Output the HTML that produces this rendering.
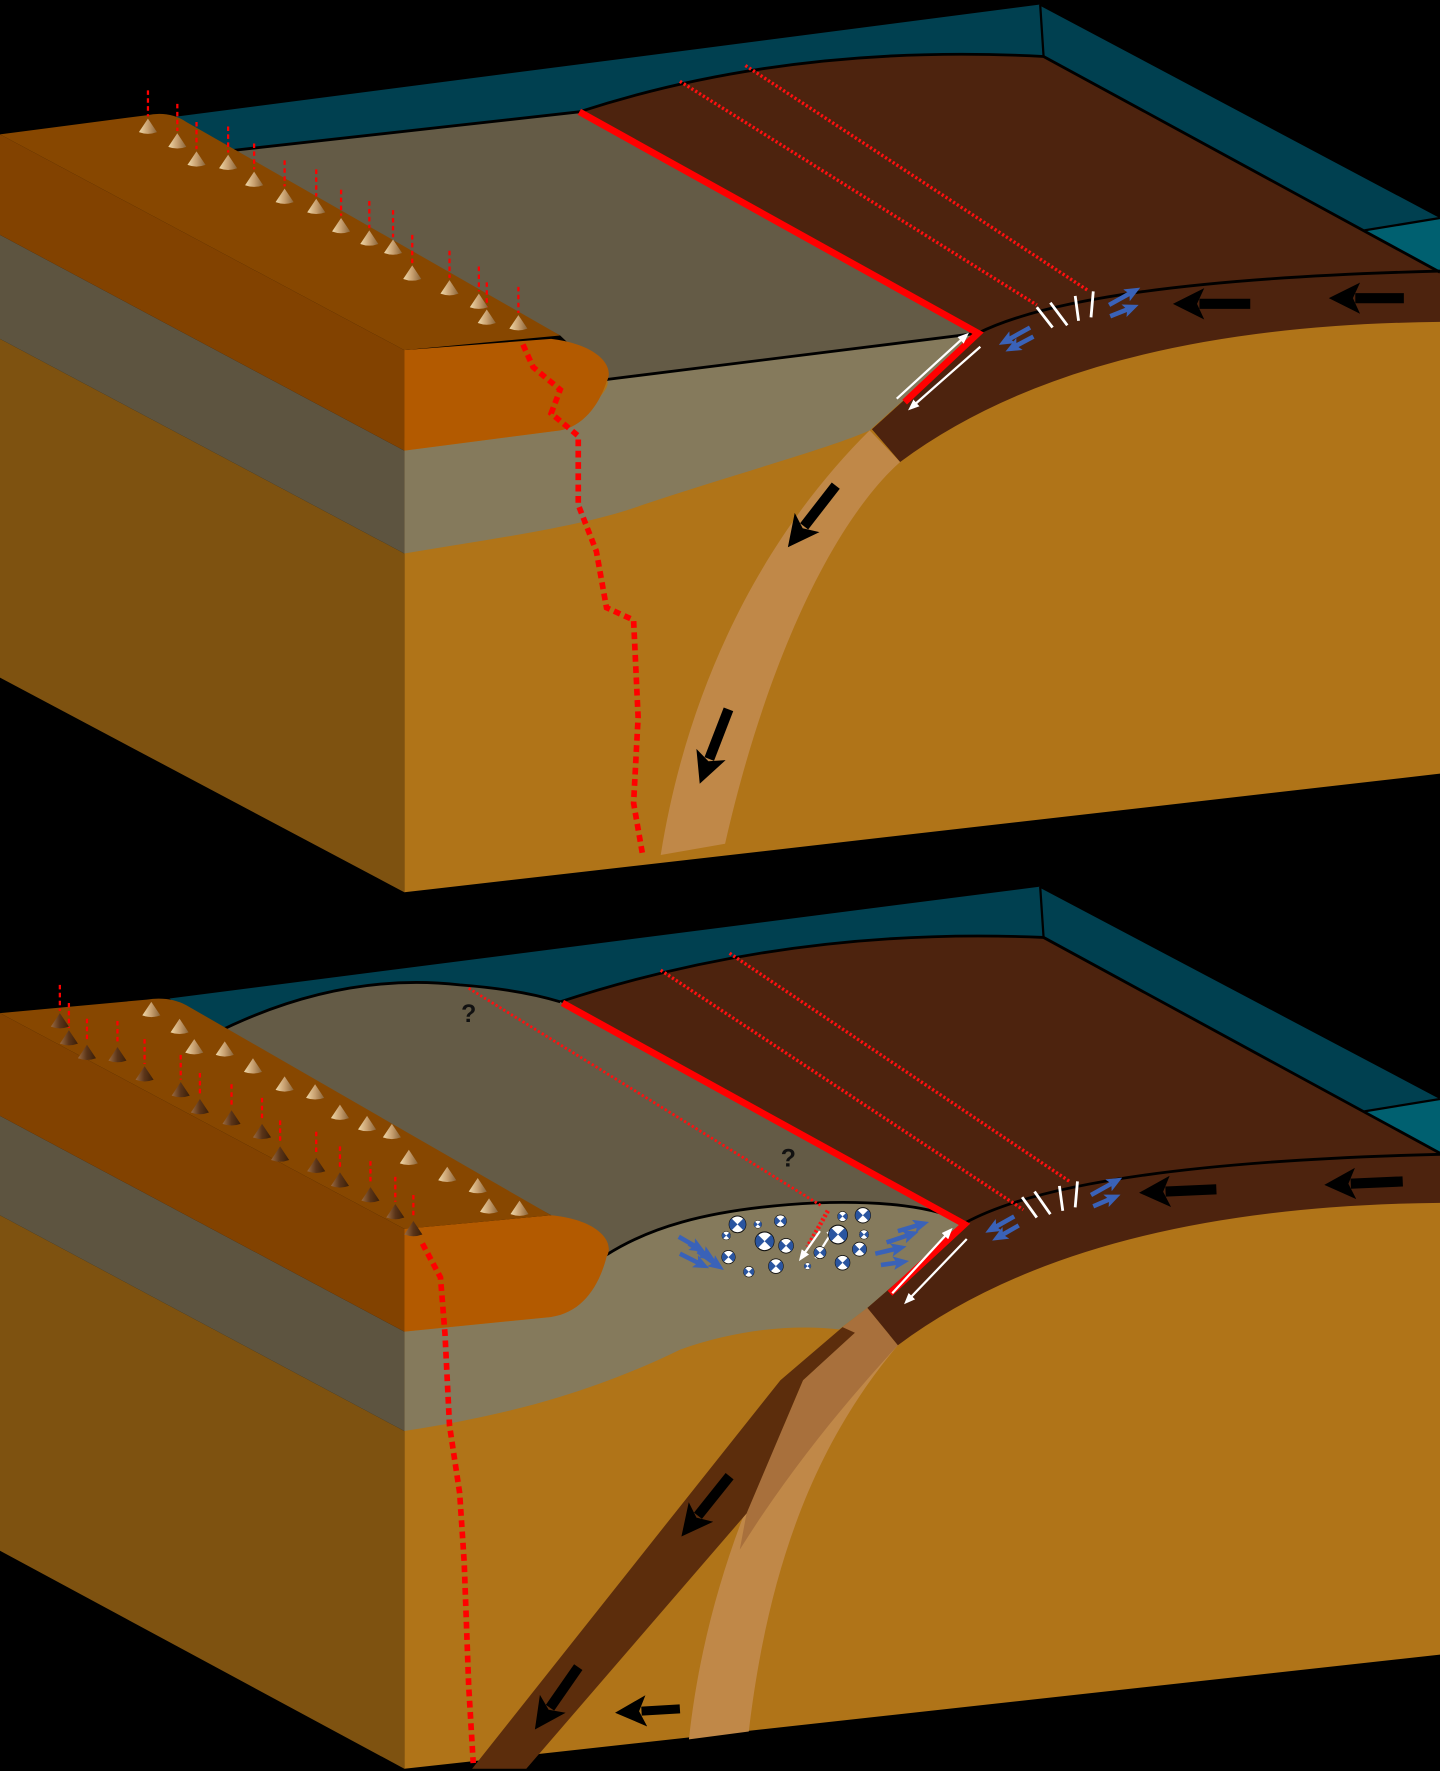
<!DOCTYPE html>
<html><head><meta charset="utf-8"><style>html,body{margin:0;padding:0;background:#000}svg{display:block}</style></head>
<body>
<svg width="1440" height="1771" viewBox="0 0 1275 1568" preserveAspectRatio="none" xmlns="http://www.w3.org/2000/svg">
<defs>
<linearGradient id="cl" x1="0" x2="1" y1="0" y2="0"><stop offset="0" stop-color="#f0d8a8"/><stop offset="0.5" stop-color="#c8a070"/><stop offset="1" stop-color="#8a6438"/></linearGradient>
<linearGradient id="cd" x1="0" x2="1" y1="0" y2="0"><stop offset="0" stop-color="#9a6a40"/><stop offset="0.5" stop-color="#5a3418"/><stop offset="1" stop-color="#3a1e08"/></linearGradient>
<path id="cone" d="M0,0 L-8,12 Q0,15 8,12 Z" fill="url(#cl)"/>
<path id="coned" d="M0,0 L-8,12 Q0,15 8,12 Z" fill="url(#cd)"/>
<g id="bb"><circle r="1" fill="#fff" stroke="#111" stroke-width="0.12"/><path d="M0,0 L-0.7,-0.7 A1,1 0 0 0 -0.7,0.7 Z M0,0 L0.7,-0.7 A1,1 0 0 1 0.7,0.7 Z" fill="#2a55a0"/></g>
<marker id="ab" markerUnits="userSpaceOnUse" markerWidth="32" markerHeight="32" refX="4" refY="13" orient="auto" viewBox="0 0 30 26"><path d="M0,0 L26,13 L0,26 L6,13 Z" fill="#000"/></marker>
<marker id="aw" markerUnits="userSpaceOnUse" markerWidth="10" markerHeight="8" refX="2" refY="4" orient="auto" viewBox="0 0 10 8"><path d="M0,0 L10,4 L0,8 Z" fill="#fff"/></marker>
<marker id="abl" markerUnits="userSpaceOnUse" markerWidth="14" markerHeight="12" refX="3" refY="6" orient="auto" viewBox="0 0 14 12"><path d="M0,0 L14,6 L0,12 L3,6 Z" fill="#3a62b8"/></marker>
</defs>
<rect width="1275" height="1568" fill="#000"/>

<!-- ================= TOP PANEL ================= -->
<polygon points="150,104 921,4 1275,192 1275,250 866,295 190,135" fill="#004050"/>
<polygon points="1208,204 1275,193 1275,242" fill="#006070"/>
<path d="M921,4 L924,50 M1208,204 L1275,193 M921,4 L1275,192" stroke="#000" stroke-width="2" fill="none"/>
<path d="M358,310 L866,295 L1275,240 L1275,685 L358,790 Z" fill="#b07418"/>
<path d="M358,399 L496,381 Q545,345 537,336 L866,295 L770,381 C740,395 650,420 569,447 C520,465 450,475 358,490 Z" fill="#857a5c"/>
<path d="M770,381 L797,409 C740,460 680,580 642,747 L585,757 C610,600 680,470 770,381 Z" fill="#c08848"/>
<path d="M513,99 Q700,38 924,50 L1275,240 L1275,285 Q960,288 797,409 L772,380 L866,295 Z" fill="#4d230e"/>
<path d="M513,99 Q700,38 924,50 L1275,241" stroke="#000" stroke-width="2.5" fill="none"/>
<path d="M866,295 Q960,248 1275,240" stroke="#000" stroke-width="2.5" fill="none"/>
<path d="M190,135 L513,99 L866,295 L537,336 L496,297 Z" fill="#645b46"/>
<path d="M190,135 L513,99 M537,336 L866,295" stroke="#000" stroke-width="2.5"/>
<path d="M0,300 L358,490 L358,790 L0,600 Z" fill="#7e5210"/>
<path d="M0,208 L358,399 L358,490 L0,300 Z" fill="#5d5440"/>
<path d="M0,119 L358,310 L358,399 L0,208 Z" fill="#824200"/>
<path d="M0,119 L130,102 Q150,98 165,108 L496,297 L358,310 Z" fill="#874700"/>
<path d="M358,310 L488,300 C530,305 545,325 537,338 C530,360 515,378 496,381 L358,399 Z" fill="#b35a00"/>
<path d="M513,99 L866,295 L801,356" stroke="#ff0000" stroke-width="6" fill="none"/>
<path d="M602,72 L918,270 M660,58 L963,257" stroke="#ff1010" stroke-width="3" stroke-dasharray="2 2" fill="none"/>
<path d="M794,353 L852,300" stroke="#fff" stroke-width="2" marker-end="url(#aw)"/>
<path d="M868,307 L810,358" stroke="#fff" stroke-width="2" marker-end="url(#aw)"/>
<path d="M918,272 L932,290 M930,268 L945,288 M952,262 L955,284 M968,258 L966,281" stroke="#fff" stroke-width="2.5"/>
<path d="M912,290 L894,300" stroke="#3a62b8" stroke-width="4" marker-end="url(#abl)"/>
<path d="M915,298 L900,306" stroke="#3a62b8" stroke-width="4" marker-end="url(#abl)"/>
<path d="M982,270 L1000,260" stroke="#3a62b8" stroke-width="4" marker-end="url(#abl)"/>
<path d="M983,280 L998,274" stroke="#3a62b8" stroke-width="4" marker-end="url(#abl)"/>
<path d="M1107,269 L1062,269" stroke="#000" stroke-width="9" marker-end="url(#ab)"/>
<path d="M1243,264 L1200,264" stroke="#000" stroke-width="9" marker-end="url(#ab)"/>
<path d="M740,430 L712,466" stroke="#000" stroke-width="9" marker-end="url(#ab)"/>
<path d="M645,628 L628,672" stroke="#000" stroke-width="9" marker-end="url(#ab)"/>
<path d="M463,305 L472,325 L496,345 L488,366 L512,386 L512,447 L528,488 L537,538 L561,549 L565,635 L561,711 L569,757" stroke="#ff0000" stroke-width="5" stroke-dasharray="6 4" fill="none"/>
<g stroke="#ff0000" stroke-width="2" stroke-dasharray="4 3">
<path d="M131,80V103 M157,92V116 M174,108V132 M202,112V135 M225,127V150 M252,142V165 M280,150V174 M302,168V191 M327,178V202 M348,186V210 M365,208V233 M398,222V246 M424,236V258 M431,250V272 M459,254V277"/>
</g>
<use href="#cone" x="131" y="105"/><use href="#cone" x="157" y="118"/><use href="#cone" x="174" y="134"/><use href="#cone" x="202" y="137"/><use href="#cone" x="225" y="152"/><use href="#cone" x="252" y="167"/><use href="#cone" x="280" y="176"/><use href="#cone" x="302" y="193"/><use href="#cone" x="327" y="204"/><use href="#cone" x="348" y="212"/><use href="#cone" x="365" y="235"/><use href="#cone" x="398" y="248"/><use href="#cone" x="424" y="260"/><use href="#cone" x="431" y="274"/><use href="#cone" x="459" y="279"/>

<!-- ================= BOTTOM PANEL ================= -->
<polygon points="150,884 921,785 1275,972 1275,1030 854,1083 190,915" fill="#004050"/>
<polygon points="1208,984 1275,973 1275,1022" fill="#006070"/>
<path d="M921,785 L924,830 M1208,984 L1275,973 M921,785 L1275,972" stroke="#000" stroke-width="2" fill="none"/>
<path d="M358,1088 L854,1083 L1275,1022 L1275,1465 L358,1566 Z" fill="#b07418"/>
<path d="M358,1179 L488,1166 Q530,1140 537,1111 C570,1090 620,1070 723,1065 C780,1063 830,1068 854,1083 L768,1158 L743,1177 C700,1172 650,1178 602,1195 C540,1225 470,1250 358,1267 Z" fill="#857a5c"/>
<path d="M746,1175 C680,1270 625,1400 610,1540 L663,1533 C680,1390 720,1280 795,1191 Z" fill="#c08848"/>
<path d="M746,1175 L768,1158 L795,1191 C750,1240 700,1300 655,1372 L661,1340 L711,1222 L757,1180 Z" fill="#a8703c"/>
<path d="M746,1175 L691,1222 L602,1334 L418,1566 L466,1566 L661,1340 L711,1222 L757,1180 Z" fill="#5c2d0c"/>
<path d="M496,887 Q700,820 924,830 L1275,1020 L1275,1065 Q960,1068 795,1191 L768,1158 L854,1083 Z" fill="#4d230e"/>
<path d="M496,887 Q700,820 924,830 L1275,1021" stroke="#000" stroke-width="2.5" fill="none"/>
<path d="M854,1083 Q950,1030 1275,1022" stroke="#000" stroke-width="2.5" fill="none"/>
<path d="M190,915 Q300,860 407,872 Q460,876 496,887 L854,1083 C830,1068 780,1063 723,1065 C620,1070 570,1090 537,1111 L488,1076 Z" fill="#645b46"/>
<path d="M190,915 Q300,860 407,872 Q460,876 496,887 M854,1083 C830,1068 780,1063 723,1065 C620,1070 570,1090 537,1111" stroke="#000" stroke-width="2.5" fill="none"/>
<path d="M0,1076 L358,1267 L358,1566 L0,1373 Z" fill="#7e5210"/>
<path d="M0,988 L358,1179 L358,1267 L0,1076 Z" fill="#5d5440"/>
<path d="M0,897 L358,1088 L358,1179 L0,988 Z" fill="#824200"/>
<path d="M0,897 L130,885 Q150,882 165,890 L488,1076 L358,1088 Z" fill="#874700"/>
<path d="M358,1088 L488,1076 C530,1080 545,1100 537,1113 C530,1140 515,1162 488,1166 L358,1179 Z" fill="#b35a00"/>
<path d="M498,888 L854,1084 L788,1145" stroke="#ff0000" stroke-width="6" fill="none"/>
<path d="M585,859 L906,1071 M646,844 L947,1046" stroke="#ff1010" stroke-width="3" stroke-dasharray="2 2" fill="none"/>
<path d="M415,875 L728,1068" stroke="#ff1010" stroke-width="2.5" stroke-dasharray="2 2" fill="none"/>
<path d="M733,1072 L715,1104" stroke="#ff1010" stroke-width="4" stroke-dasharray="2 2"/>
<text x="415" y="905" font-family="Liberation Sans, sans-serif" font-size="22" font-weight="bold" fill="#111" text-anchor="middle">?</text>
<text x="698" y="1033" font-family="Liberation Sans, sans-serif" font-size="22" font-weight="bold" fill="#111" text-anchor="middle">?</text>
<path d="M790,1145 L838,1093" stroke="#fff" stroke-width="2" marker-end="url(#aw)"/>
<path d="M856,1097 L806,1149" stroke="#fff" stroke-width="2" marker-end="url(#aw)"/>
<path d="M726,1090 L712,1110" stroke="#fff" stroke-width="2" marker-end="url(#aw)"/>
<path d="M722,1114 L736,1092" stroke="#fff" stroke-width="2" marker-end="url(#aw)"/>
<path d="M905,1060 L918,1078 M916,1055 L930,1075 M938,1050 L941,1072 M954,1046 L952,1069" stroke="#fff" stroke-width="2.5"/>
<g stroke="#3a62b8" stroke-width="4">
<path d="M898,1077 L882,1086" marker-end="url(#abl)"/>
<path d="M902,1085 L888,1093" marker-end="url(#abl)"/>
<path d="M966,1058 L984,1048" marker-end="url(#abl)"/>
<path d="M968,1068 L982,1062" marker-end="url(#abl)"/>
<path d="M601,1095 L615,1103" marker-end="url(#abl)"/>
<path d="M610,1101 L624,1110" marker-end="url(#abl)"/>
<path d="M618,1108 L632,1118" marker-end="url(#abl)"/>
<path d="M602,1110 L618,1118" marker-end="url(#abl)"/>
<path d="M775,1110 L792,1106" marker-end="url(#abl)"/>
<path d="M785,1100 L803,1094" marker-end="url(#abl)"/>
<path d="M795,1090 L812,1085" marker-end="url(#abl)"/>
<path d="M780,1120 L794,1118" marker-end="url(#abl)"/>
</g>
<use href="#bb" transform="translate(653,1084) scale(7.4)"/><use href="#bb" transform="translate(671,1084) scale(3.5)"/><use href="#bb" transform="translate(691,1081) scale(5.3)"/><use href="#bb" transform="translate(643,1094) scale(3.8)"/><use href="#bb" transform="translate(677,1099) scale(8.3)"/><use href="#bb" transform="translate(696,1103) scale(6.5)"/><use href="#bb" transform="translate(645,1113) scale(5.9)"/><use href="#bb" transform="translate(663,1126) scale(4.7)"/><use href="#bb" transform="translate(687,1121) scale(6.5)"/><use href="#bb" transform="translate(715,1121) scale(3)"/><use href="#bb" transform="translate(746,1077) scale(4.4)"/><use href="#bb" transform="translate(764,1076) scale(6.8)"/><use href="#bb" transform="translate(742,1093) scale(8.3)"/><use href="#bb" transform="translate(765,1093) scale(4.1)"/><use href="#bb" transform="translate(726,1109) scale(5.3)"/><use href="#bb" transform="translate(761,1106) scale(6.2)"/><use href="#bb" transform="translate(746,1118) scale(6.5)"/>
<path d="M1077,1053 L1032,1055" stroke="#000" stroke-width="9" marker-end="url(#ab)"/>
<path d="M1242,1046 L1196,1048" stroke="#000" stroke-width="9" marker-end="url(#ab)"/>
<path d="M646,1307 L618,1342" stroke="#000" stroke-width="9" marker-end="url(#ab)"/>
<path d="M512,1476 L487,1512" stroke="#000" stroke-width="9" marker-end="url(#ab)"/>
<path d="M602,1513 L568,1515" stroke="#000" stroke-width="8" marker-end="url(#ab)"/>
<path d="M374,1101 L390,1131 L394,1181 L398,1262 L407,1322 L411,1383 L415,1493 L419,1561" stroke="#ff0000" stroke-width="5" stroke-dasharray="6 4" fill="none"/>
<g stroke="#ff0000" stroke-width="2" stroke-dasharray="4 3">
<path d="M53,872V895 M61,888V910 M77,902V923 M104,904V925 M128,920V942 M160,934V956 M177,950V971 M205,960V981 M232,972V993 M248,992V1013 M280,1002V1023 M301,1015V1036 M328,1028V1049 M350,1042V1064 M366,1058V1079"/>
</g>
<use href="#cone" x="134" y="887"/><use href="#cone" x="159" y="902"/><use href="#cone" x="172" y="920"/><use href="#cone" x="199" y="922"/><use href="#cone" x="224" y="937"/><use href="#cone" x="252" y="953"/><use href="#cone" x="279" y="960"/><use href="#cone" x="301" y="978"/><use href="#cone" x="325" y="988"/><use href="#cone" x="347" y="995"/><use href="#cone" x="362" y="1018"/><use href="#cone" x="396" y="1033"/><use href="#cone" x="423" y="1043"/><use href="#cone" x="433" y="1061"/><use href="#cone" x="460" y="1063"/>
<use href="#coned" x="53" y="897"/><use href="#coned" x="61" y="912"/><use href="#coned" x="77" y="925"/><use href="#coned" x="104" y="927"/><use href="#coned" x="128" y="944"/><use href="#coned" x="160" y="958"/><use href="#coned" x="177" y="973"/><use href="#coned" x="205" y="983"/><use href="#coned" x="232" y="995"/><use href="#coned" x="248" y="1015"/><use href="#coned" x="280" y="1025"/><use href="#coned" x="301" y="1038"/><use href="#coned" x="328" y="1051"/><use href="#coned" x="350" y="1066"/><use href="#coned" x="366" y="1081"/>
</svg>
</body></html>
